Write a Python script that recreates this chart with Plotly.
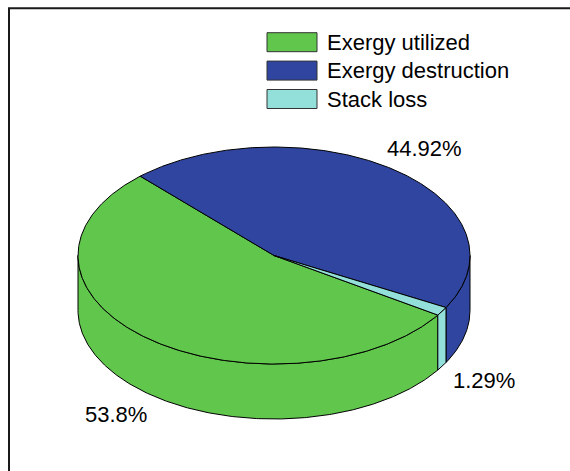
import numpy as np
import plotly.graph_objects as go

# Exergy balance shares (%)
categories = ["Exergy utilized", "Exergy destruction", "Stack loss"]
shares = [53.8, 44.92, 1.29]
colors = ["#61C64C", "#2F45A0", "#93E0DA"]

# Pie geometry, in pixel units of the canvas
W, H = 570, 471
CX, CY = 274.0, 255.5      # centre of the top face
RX, RY = 196.0, 108.5      # radii of the top ellipse
DEPTH = 55.0               # thickness of the disc
START_DEG = -33.3          # angle where the first slice begins (slices run clockwise)
LABEL_R = 1.25             # label distance as a fraction of the radius
FONT = "Arial, Liberation Sans, sans-serif"
FONT_SIZE = 22


def ellipse_pts(a0, a1, dy=0.0, n=None):
    if n is None:
        n = max(int(abs(a1 - a0) * 2), 4)
    t = np.radians(np.linspace(a0, a1, n))
    return CX + RX * np.cos(t), CY - RY * np.sin(t) + dy


total = sum(shares)
spans = [360.0 * s / total for s in shares]
bounds = []          # (low angle, high angle) of each slice
a = START_DEG
for sp in spans:
    bounds.append((a - sp, a))
    a -= sp

fig = go.Figure()

# Front side walls (only the part of each slice facing the viewer)
for (t0, t1), col in zip(bounds, colors):
    for k in (-2, -1, 0, 1):
        lo, hi = 180 + 360 * k, 360 + 360 * k
        a0, a1 = max(t0, lo), min(t1, hi)
        if a1 <= a0:
            continue
        xt, yt = ellipse_pts(a0, a1)
        xb, yb = ellipse_pts(a1, a0, DEPTH)
        xs = np.concatenate([xt, xb, xt[:1]])
        ys = np.concatenate([yt, yb, yt[:1]])
        fig.add_trace(go.Scatter(x=xs, y=ys, mode="lines", fill="toself",
                                 fillcolor=col, line=dict(color="black", width=1),
                                 hoverinfo="skip", showlegend=False))

# Top faces
for (t0, t1), col in zip(bounds, colors):
    xa, ya = ellipse_pts(t0, t1)
    xs = np.concatenate([[CX], xa, [CX]])
    ys = np.concatenate([[CY], ya, [CY]])
    fig.add_trace(go.Scatter(x=xs, y=ys, mode="lines", fill="toself",
                             fillcolor=col, line=dict(color="black", width=1),
                             hoverinfo="skip", showlegend=False))

annotations = []
shapes = []

# Percentage labels placed outside each slice
for (t0, t1), v in zip(bounds, shares):
    m = np.radians((t0 + t1) / 2)
    lx = CX + LABEL_R * RX * np.cos(m)
    ly = CY - LABEL_R * RY * np.sin(m) + (DEPTH if np.sin(m) < 0 else 0)
    annotations.append(dict(x=lx, y=ly, xref="x", yref="y", text=f"{v:g}%",
                            showarrow=False, xanchor="center", yanchor="middle",
                            font=dict(family=FONT, size=FONT_SIZE, color="black")))

# Legend drawn as swatches and text
LEG_X0, LEG_X1 = 267, 317
LEG_Y0, LEG_H, LEG_STEP = 32.7, 19, 28.4
for i, (name, col) in enumerate(zip(categories, colors)):
    y0 = LEG_Y0 + i * LEG_STEP
    shapes.append(dict(type="rect", xref="x", yref="y", x0=LEG_X0, x1=LEG_X1,
                       y0=y0, y1=y0 + LEG_H, fillcolor=col,
                       line=dict(color="#333333", width=1)))
    annotations.append(dict(x=LEG_X1 + 8, y=y0 + LEG_H / 2, xref="x", yref="y",
                            text=name, showarrow=False, xanchor="left",
                            yanchor="middle",
                            font=dict(family=FONT, size=FONT_SIZE, color="black")))

# Frame around the plot area
shapes.append(dict(type="path", xref="x", yref="y",
                   path=f"M 9 {H + 5} L 9 8.3 L {W + 5} 8.3",
                   line=dict(color="#1a1a1a", width=2)))

fig.update_layout(
    width=W, height=H,
    margin=dict(l=0, r=0, t=0, b=0),
    paper_bgcolor="white", plot_bgcolor="white",
    xaxis=dict(range=[0, W], visible=False, fixedrange=True),
    yaxis=dict(range=[H, 0], visible=False, fixedrange=True),
    showlegend=False,
    shapes=shapes,
    annotations=annotations,
)

fig.write_html("out.html", config={"displayModeBar": False})
